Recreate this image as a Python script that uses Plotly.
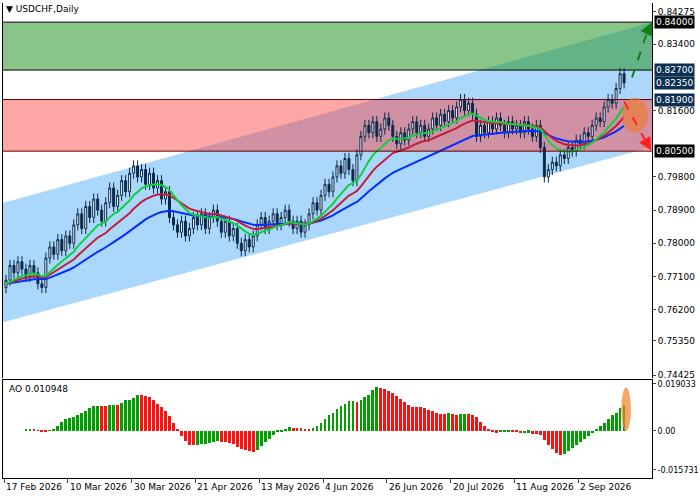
import plotly.graph_objects as go
import numpy as np

closes = [0.770,0.774,0.772,0.775,0.773,0.771,0.774,0.772,
0.769,0.768,0.776,0.779,0.777,0.781,0.778,0.782,
0.780,0.785,0.788,0.784,0.790,0.787,0.792,0.789,
0.786,0.791,0.795,0.790,0.793,0.797,0.794,0.799,
0.801,0.798,0.800,0.796,0.799,0.795,0.797,0.792,
0.794,0.787,0.785,0.783,0.786,0.782,0.784,0.787,
0.785,0.788,0.784,0.787,0.789,0.786,0.783,0.786,
0.782,0.784,0.780,0.778,0.781,0.779,0.782,0.785,
0.787,0.784,0.786,0.788,0.785,0.787,0.789,0.786,
0.784,0.786,0.783,0.785,0.788,0.791,0.789,0.793,
0.796,0.794,0.798,0.801,0.799,0.803,0.800,0.797,
0.804,0.809,0.812,0.810,0.813,0.809,0.811,0.814,
0.812,0.809,0.807,0.810,0.808,0.811,0.813,0.810,
0.812,0.809,0.811,0.814,0.812,0.815,0.813,0.816,
0.814,0.817,0.819,0.816,0.818,0.815,0.809,0.812,
0.810,0.813,0.811,0.814,0.812,0.810,0.813,0.811,
0.812,0.810,0.813,0.811,0.809,0.812,0.806,0.798,
0.800,0.802,0.801,0.804,0.803,0.806,0.805,0.808,
0.807,0.810,0.809,0.812,0.814,0.813,0.817,0.819,
0.818,0.822,0.826,0.8235]
date_labels = ["17 Feb 2026","10 Mar 2026","30 Mar 2026","21 Apr 2026","13 May 2026",
               "4 Jun 2026","26 Jun 2026","20 Jul 2026","11 Aug 2026","2 Sep 2026"]
price_ticks = [0.84275,0.83400,0.81600,0.79800,0.78900,0.78000,0.77100,0.76200,0.75350,0.74425]
levels = {"0.84000":0.8400,"0.82700":0.8270,"0.82350":0.8235,"0.81900":0.8190,"0.80500":0.8050}
ao_ticks = [0.019033,0.0,-0.015731]

c = np.array(closes); n = len(c); x = np.arange(n)
o = np.concatenate([[c[0]-0.002], c[:-1]])
h = np.maximum(o,c)+0.0015; l = np.minimum(o,c)-0.0015

def sma(a,p):
    return np.array([a[max(0,i-p+1):i+1].mean() for i in range(len(a))])
def smma(a,p):
    out=np.empty(len(a)); out[0]=a[0]
    for i in range(1,len(a)): out[i]=(out[i-1]*(p-1)+a[i])/p
    return out
med=(h+l)/2
green=smma(med,6); red=smma(med,10); blue=smma(med,18)
ao=sma(med,5)-sma(med,34)
aocol=['#00a000' if i==0 or ao[i]>=ao[i-1] else '#ff1010' for i in range(n)]

fig=go.Figure()
fig.add_trace(go.Candlestick(x=x,open=o,high=h,low=l,close=c,
    increasing=dict(line=dict(color='#0b2a4a',width=1),fillcolor='white'),
    decreasing=dict(line=dict(color='#0b2a4a',width=1),fillcolor='#0b2a4a'),
    whiskerwidth=0,showlegend=False,xaxis='x',yaxis='y'))
for arr,col in [(blue,'#0030ff'),(red,'#c0203a'),(green,'#10d040')]:
    fig.add_trace(go.Scatter(x=x,y=arr,mode='lines',line=dict(color=col,width=2),showlegend=False,xaxis='x',yaxis='y'))
fig.add_trace(go.Bar(x=x,y=ao,marker_color=aocol,marker_line_width=0,width=0.7,showlegend=False,xaxis='x',yaxis='y2'))

X0,X1=-0.75,162
shapes=[
 dict(type='path',xref='x',yref='y',path=f'M {X0},0.79093 L {X1},0.8400 L {X1},0.8061 L {X0},0.7586 Z',
      fillcolor='rgba(150,205,250,0.8)',line_width=0,layer='below'),
 dict(type='rect',xref='x',yref='y',x0=X0,x1=X1,y0=0.8270,y1=0.8400,fillcolor='rgba(40,150,40,0.55)',line_width=0,layer='below'),
 dict(type='rect',xref='x',yref='y',x0=X0,x1=X1,y0=0.8050,y1=0.8190,fillcolor='rgba(255,60,60,0.45)',line_width=0,layer='below'),
]
for v,col in [(0.8400,'black'),(0.8270,'black'),(0.8190,'#600000'),(0.8050,'#600000')]:
    shapes.append(dict(type='line',xref='x',yref='y',x0=X0,x1=X1,y0=v,y1=v,line=dict(color=col,width=1)))
shapes.append(dict(type='circle',xref='x',yref='y',x0=154.5,x1=161,y0=0.8100,y1=0.8195,
    fillcolor='rgba(240,120,40,0.6)',line_width=0))
shapes.append(dict(type='circle',xref='x',yref='y2',x0=154.3,x1=156.7,y0=0.0,y1=0.0175,
    fillcolor='rgba(240,130,40,0.7)',line_width=0))
shapes.append(dict(type='line',xref='x',yref='y',x0=157,y0=0.8250,x1=161,y1=0.8380,line=dict(color='#108010',width=2,dash='dash')))
shapes.append(dict(type='line',xref='x',yref='y',x0=155,y0=0.8185,x1=160.5,y1=0.8075,line=dict(color='#ff2020',width=2,dash='dash')))
fig.update_layout(shapes=shapes)

ann=[dict(x=162,y=0.8400,ax=160.6,ay=0.8368,xref='x',yref='y',axref='x',ayref='y',text='',
          showarrow=True,arrowhead=2,arrowsize=1.3,arrowwidth=2,arrowcolor='#108010'),
     dict(x=161.8,y=0.8052,ax=160.3,ay=0.8080,xref='x',yref='y',axref='x',ayref='y',text='',
          showarrow=True,arrowhead=2,arrowsize=1.3,arrowwidth=2,arrowcolor='#ff2020'),
     dict(x=0,y=1,xref='paper',yref='paper',text='▼ USDCHF,Daily',showarrow=False,xanchor='left',yanchor='top',
          font=dict(size=9,color='black'),xshift=1,yshift=1),
     dict(x=0,y=0.206,xref='paper',yref='paper',text='AO 0.010948',showarrow=False,xanchor='left',yanchor='top',
          font=dict(size=9,color='black'),xshift=4,yshift=-2)]
for i,t in enumerate(date_labels):
    ann.append(dict(x=i*16-0.5,y=0,xref='x',yref='paper',text=t,showarrow=False,xanchor='left',yanchor='top',
                    font=dict(size=9),yshift=-2))
for t,v in levels.items():
    bg='black' if t in ('0.84000','0.80500') else '#0c2f52'
    ann.append(dict(x=1,y=v,xref='paper',yref='y',text=t,showarrow=False,xanchor='left',bgcolor=bg,
                    font=dict(size=9,color='white'),borderpad=1,xshift=2))
fig.update_layout(annotations=ann)

fig.update_layout(width=700,height=500,margin=dict(l=3,r=48,t=3,b=22),paper_bgcolor='white',plot_bgcolor='white',
  font=dict(family='DejaVu Sans',size=9,color='black'),bargap=0,
  xaxis=dict(range=[X0,X1],rangeslider=dict(visible=False),showgrid=False,zeroline=False,automargin=False,
     tickvals=[i*16-0.5 for i in range(len(date_labels))],ticktext=['']*len(date_labels),ticks='outside',ticklen=4,
     showline=True,linecolor='black',mirror=True,anchor='y2'),
  yaxis=dict(domain=[0.2105,1],range=[0.74345,0.84519],side='right',tickvals=price_ticks,automargin=False,
     ticktext=[f'{v:.5f}' for v in price_ticks],showgrid=False,zeroline=False,showline=True,linecolor='black',
     mirror=True,ticks='outside',ticklen=3),
  yaxis2=dict(domain=[0,0.206],range=[-0.019,0.0205],side='right',tickvals=ao_ticks,automargin=False,
     ticktext=['0.019033','0.00','-0.015731'],tickfont=dict(size=8),showgrid=False,zeroline=False,showline=True,
     linecolor='black',mirror=True,ticks='outside',ticklen=3))
fig.write_html('out.html', post_script="document.body.style.margin='0';", config={'displayModeBar':False})
